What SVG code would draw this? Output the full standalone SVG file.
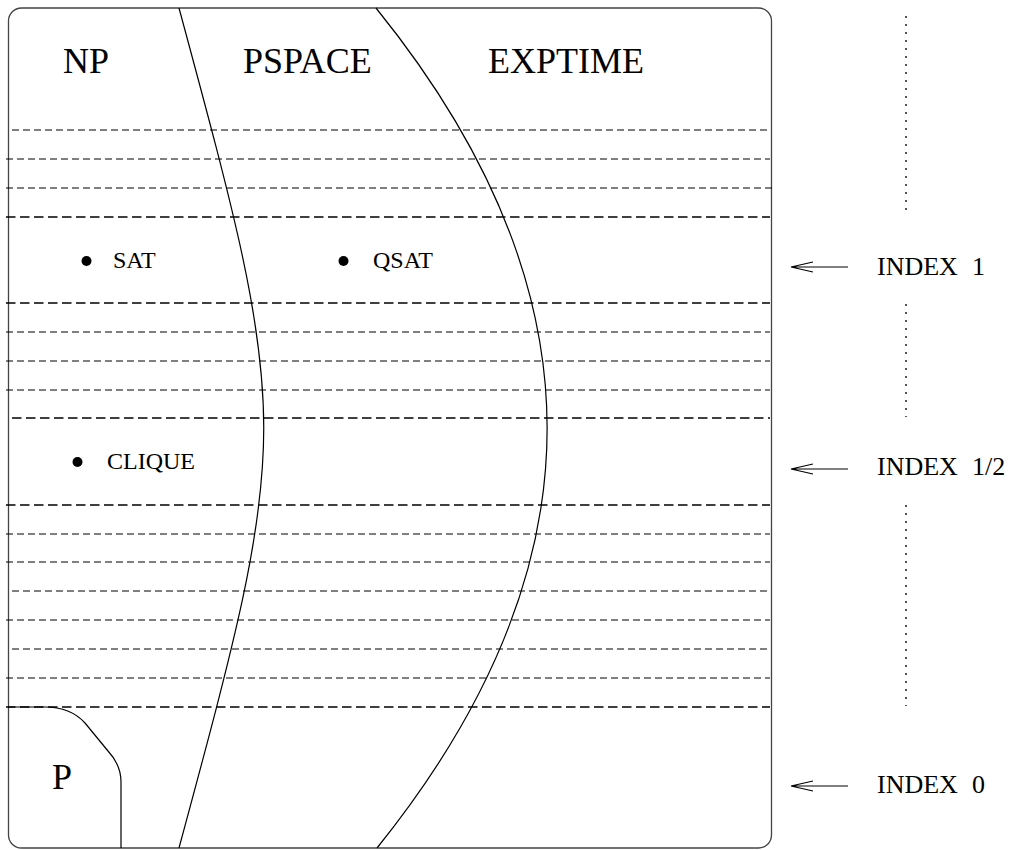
<svg xmlns="http://www.w3.org/2000/svg" width="1014" height="850" viewBox="0 0 1014 850">
<style>
.t{font-family:"Liberation Serif","Times New Roman",serif;fill:#000}
.big{font-size:36px}
.sm{font-size:24px}
.idx{font-size:26px}
.maj{stroke:#000;stroke-width:1.3;stroke-dasharray:9.5 4.5;fill:none}
.min{stroke:#000;stroke-width:1;stroke-dasharray:7 4;fill:none}
.ln{stroke:#000;stroke-width:1.2;fill:none}
.dot{stroke:#555;stroke-width:2;stroke-dasharray:2 6;fill:none}
</style>
<rect width="1014" height="850" fill="#fff"/>
<g id="frame">
<rect x="8.5" y="8" width="763" height="840" rx="13" ry="13" fill="none" stroke="#444" stroke-width="1.3"/>
</g>
<g id="levels">
<line class="min" x1="12" y1="130" x2="770" y2="130"/>
<line class="min" x1="6" y1="159" x2="770" y2="159"/>
<line class="min" x1="6" y1="188" x2="773" y2="188"/>
<line class="maj" x1="6" y1="217" x2="770" y2="217"/>
<line class="maj" x1="6" y1="303" x2="770" y2="303"/>
<line class="min" x1="6" y1="332" x2="770" y2="332"/>
<line class="min" x1="6" y1="361" x2="770" y2="361"/>
<line class="min" x1="6" y1="390" x2="770" y2="390"/>
<line class="maj" x1="12" y1="418" x2="770" y2="418"/>
<line class="maj" x1="6" y1="505" x2="770" y2="505"/>
<line class="min" x1="6" y1="534" x2="770" y2="534"/>
<line class="min" x1="6" y1="562" x2="770" y2="562"/>
<line class="min" x1="12" y1="591" x2="770" y2="591"/>
<line class="min" x1="6" y1="620" x2="770" y2="620"/>
<line class="min" x1="12" y1="649" x2="770" y2="649"/>
<line class="min" x1="6" y1="678" x2="770" y2="678"/>
<line class="maj" x1="6" y1="707" x2="770" y2="707"/>
</g>
<g id="boundaries">
<path class="ln" d="M179,8 C292,426 292,430 179,848"/>
<path class="ln" d="M376,8 C604,290 604,566 377,848"/>
<path class="ln" d="M8,707 L45,707 C63,707 75,712 85,723 L108,751 Q121,765 121,782 L121,848"/>
</g>
<g id="NP"><text class="t big" x="63" y="73">NP</text></g>
<g id="PSPACE"><text class="t big" x="243" y="73">PSPACE</text></g>
<g id="EXPTIME"><text class="t big" x="488" y="73">EXPTIME</text></g>
<g id="P"><text class="t big" x="52" y="789">P</text></g>
<g id="SAT"><circle cx="86.5" cy="261" r="5"/><text class="t sm" x="113" y="268">SAT</text></g>
<g id="QSAT"><circle cx="343.5" cy="261" r="5"/><text class="t sm" x="373" y="268">QSAT</text></g>
<g id="CLIQUE"><circle cx="77.5" cy="462" r="5"/><text class="t sm" x="107" y="469">CLIQUE</text></g>
<g id="scale">
<line class="dot" x1="906" y1="16" x2="906" y2="216"/>
<line class="dot" x1="906" y1="304" x2="906" y2="417"/>
<line class="dot" x1="906" y1="505" x2="906" y2="706"/>
</g>
<g id="connectors">
<path class="ln" d="M848,267 L791,267 M813,262 L791,267 L813,272"/>
<path class="ln" d="M848,469 L791,469 M813,464 L791,469 L813,474"/>
<path class="ln" d="M848,786 L791,786 M813,781 L791,786 L813,791"/>
</g>
<g id="index1"><text class="t idx" x="877" y="275">INDEX<tspan x="972">1</tspan></text></g>
<g id="index12"><text class="t idx" x="877" y="475">INDEX<tspan x="972">1/2</tspan></text></g>
<g id="index0"><text class="t idx" x="877" y="793">INDEX<tspan x="972">0</tspan></text></g>
</svg>
